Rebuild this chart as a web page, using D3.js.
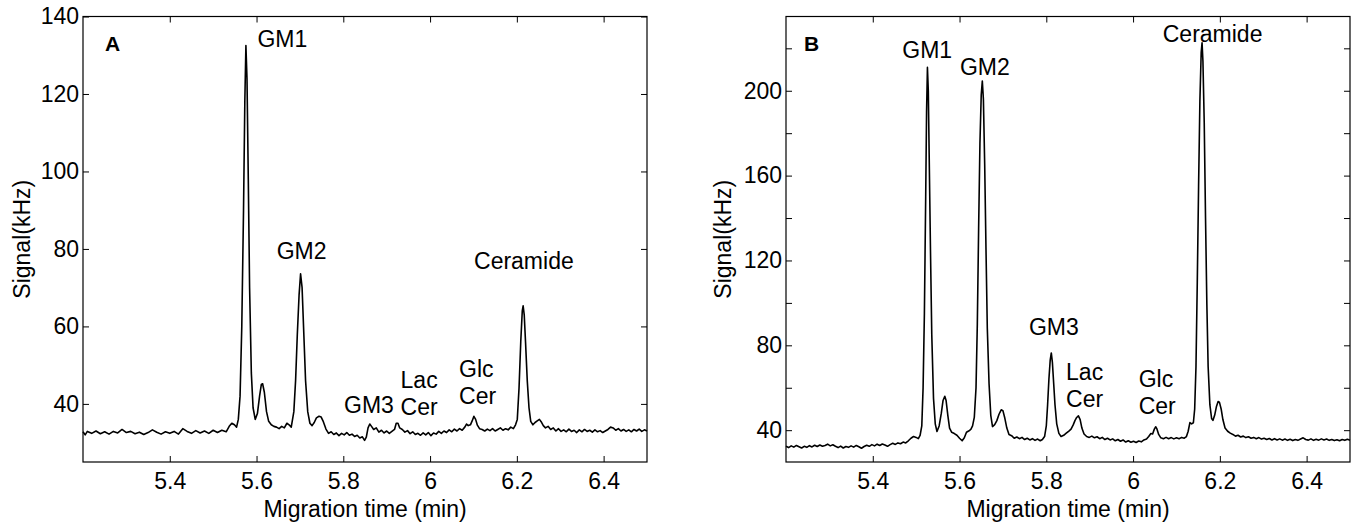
<!DOCTYPE html>
<html>
<head>
<meta charset="utf-8">
<script src="https://cdn.jsdelivr.net/npm/d3@7"></script>
<style>
  body { margin: 0; background: #fff; }
  svg { font-family: "Liberation Sans", Arial, Helvetica, sans-serif; }
</style>
</head>
<body>
<div id="chart"></div>
<script>
// ---- data ----
const timeTicks = [5.4, 5.6, 5.8, 6.0, 6.2, 6.4];
const timeTickLabels = ["5.4", "5.6", "5.8", "6", "6.2", "6.4"];
const signalTicksA = [40, 60, 80, 100, 120, 140];
const signalLabelsA = ["40", "60", "80", "100", "120", "140"];
const signalTicksB = [40, 60, 80, 100, 120, 140, 160, 180, 200, 220];
const signalLabelsB = ["40", "", "80", "", "120", "", "160", "", "200", ""];

// [migration time (min), signal (kHz)]
const traceA = [
  [5.200, 32.8], [5.205, 32.0], [5.210, 32.9], [5.220, 32.4], [5.230, 33.0], [5.240, 32.3],
  [5.250, 32.8], [5.260, 32.2], [5.270, 32.9], [5.280, 32.5], [5.290, 33.4], [5.300, 32.6],
  [5.310, 32.9], [5.320, 32.3], [5.330, 32.7], [5.340, 32.1], [5.350, 32.6], [5.360, 33.3],
  [5.370, 32.7], [5.380, 32.2], [5.390, 32.8], [5.400, 32.4], [5.410, 32.9], [5.420, 32.2],
  [5.430, 33.6], [5.440, 32.9], [5.450, 32.4], [5.460, 33.1], [5.470, 32.5], [5.480, 33.0],
  [5.490, 32.4], [5.500, 33.2], [5.510, 32.6], [5.520, 33.2], [5.530, 32.8], [5.537, 34.2],
  [5.543, 35.0], [5.549, 34.6], [5.554, 34.0], [5.558, 36.0], [5.562, 42], [5.566, 60],
  [5.570, 90], [5.573, 118], [5.5755, 132.5], [5.578, 124], [5.581, 98], [5.584, 70],
  [5.588, 48], [5.592, 39], [5.597, 36.0], [5.602, 37.5], [5.607, 42], [5.611, 45],
  [5.614, 45.2], [5.618, 43], [5.623, 38], [5.628, 35.5], [5.634, 34.6], [5.640, 34.2],
  [5.646, 34.0], [5.652, 33.6], [5.658, 34.2], [5.664, 33.8], [5.670, 35.0], [5.675, 34.6],
  [5.680, 34.0], [5.686, 38], [5.690, 46], [5.694, 58], [5.698, 68], [5.7015, 73.6],
  [5.705, 70], [5.709, 58], [5.713, 46], [5.718, 38], [5.723, 35], [5.728, 34.4],
  [5.733, 35.2], [5.738, 36.4], [5.744, 36.8], [5.749, 36.6], [5.754, 35.4], [5.760, 33.5],
  [5.766, 32.4], [5.772, 32.8], [5.778, 32.1], [5.784, 32.5], [5.790, 31.8], [5.796, 32.4],
  [5.802, 32.0], [5.808, 32.6], [5.814, 31.9], [5.820, 32.2], [5.826, 31.6], [5.832, 31.9],
  [5.838, 31.2], [5.844, 31.5], [5.849, 30.6], [5.853, 31.4], [5.857, 33.8], [5.861, 34.8],
  [5.865, 34.2], [5.870, 33.4], [5.876, 33.8], [5.882, 32.7], [5.888, 33.2], [5.894, 32.5],
  [5.900, 33.0], [5.906, 32.4], [5.912, 32.9], [5.918, 33.4], [5.922, 35.0], [5.926, 35.0],
  [5.930, 33.8], [5.936, 33.4], [5.942, 32.7], [5.948, 33.1], [5.954, 32.3], [5.960, 32.8],
  [5.966, 32.1], [5.972, 32.4], [5.978, 31.9], [5.984, 32.5], [5.990, 32.0], [5.996, 32.6],
  [6.002, 31.8], [6.008, 32.5], [6.014, 32.2], [6.020, 32.9], [6.026, 32.4], [6.032, 33.0],
  [6.038, 32.6], [6.044, 33.3], [6.050, 32.8], [6.056, 33.5], [6.062, 33.0], [6.068, 33.6],
  [6.074, 33.2], [6.080, 34.0], [6.084, 34.8], [6.088, 34.4], [6.093, 34.6], [6.097, 35.6],
  [6.101, 36.8], [6.105, 36.0], [6.109, 34.5], [6.114, 33.6], [6.120, 33.4], [6.126, 33.0],
  [6.132, 33.5], [6.138, 33.1], [6.144, 33.6], [6.150, 33.0], [6.156, 33.4], [6.162, 33.8],
  [6.168, 33.2], [6.174, 33.6], [6.180, 33.3], [6.186, 34.0], [6.192, 33.6], [6.197, 34.6],
  [6.201, 36], [6.205, 44], [6.209, 56], [6.2125, 64], [6.2145, 65.3], [6.217, 63],
  [6.220, 56], [6.224, 46], [6.228, 39], [6.232, 35.5], [6.237, 34.6], [6.242, 35.2],
  [6.247, 35.6], [6.252, 36.0], [6.256, 35.4], [6.261, 34.4], [6.266, 33.8], [6.272, 34.2],
  [6.278, 33.4], [6.284, 33.8], [6.290, 33.0], [6.296, 33.6], [6.302, 32.9], [6.308, 33.3],
  [6.314, 32.8], [6.320, 33.5], [6.326, 32.9], [6.332, 33.2], [6.338, 32.6], [6.344, 33.3],
  [6.350, 32.8], [6.356, 33.4], [6.362, 32.9], [6.368, 33.2], [6.374, 32.7], [6.380, 33.3],
  [6.386, 32.8], [6.392, 33.1], [6.398, 32.6], [6.404, 33.0], [6.410, 33.4], [6.416, 34.0],
  [6.422, 33.8], [6.428, 33.2], [6.434, 33.6], [6.440, 33.0], [6.446, 33.4], [6.452, 32.9],
  [6.458, 33.3], [6.464, 32.8], [6.470, 33.4], [6.476, 33.0], [6.482, 33.5], [6.488, 32.9],
  [6.494, 33.3], [6.500, 33.0]
];

const traceB = [
  [5.200, 32.4], [5.206, 31.8], [5.212, 32.6], [5.218, 32.0], [5.224, 32.8], [5.230, 32.2],
  [5.236, 31.6], [5.242, 32.4], [5.248, 31.9], [5.254, 32.7], [5.260, 32.1], [5.266, 32.9],
  [5.272, 32.3], [5.278, 33.0], [5.284, 32.4], [5.290, 32.8], [5.296, 33.4], [5.302, 32.6],
  [5.308, 33.1], [5.314, 32.4], [5.320, 31.8], [5.326, 32.5], [5.332, 31.6], [5.338, 32.3],
  [5.344, 31.9], [5.350, 32.6], [5.356, 32.0], [5.362, 32.8], [5.368, 32.2], [5.374, 31.5],
  [5.380, 32.3], [5.386, 32.9], [5.392, 32.4], [5.398, 33.2], [5.404, 32.6], [5.410, 33.4],
  [5.416, 32.8], [5.422, 33.5], [5.428, 33.0], [5.434, 32.4], [5.440, 33.2], [5.446, 33.8],
  [5.452, 33.3], [5.458, 34.0], [5.464, 33.6], [5.470, 34.4], [5.476, 34.0], [5.482, 35.0],
  [5.488, 36.2], [5.494, 37.0], [5.500, 36.6], [5.505, 36.0], [5.509, 37.5], [5.513, 42],
  [5.516, 60], [5.519, 95], [5.522, 150], [5.524, 190], [5.526, 211], [5.528, 200],
  [5.530, 170], [5.533, 125], [5.536, 85], [5.540, 55], [5.544, 43], [5.548, 39.4],
  [5.553, 42], [5.558, 48], [5.562, 54], [5.566, 56], [5.569, 54], [5.573, 47],
  [5.577, 41], [5.582, 39], [5.588, 38.4], [5.594, 37.6], [5.600, 36.2], [5.606, 35.0],
  [5.611, 36.4], [5.616, 39], [5.621, 39.6], [5.626, 40.4], [5.630, 42], [5.634, 46],
  [5.638, 60], [5.641, 90], [5.644, 135], [5.647, 175], [5.650, 198], [5.6525, 204.6],
  [5.655, 196], [5.658, 165], [5.661, 125], [5.664, 88], [5.668, 62], [5.672, 47],
  [5.676, 41.7], [5.681, 42.6], [5.686, 44.5], [5.691, 47.5], [5.696, 49.6], [5.700, 49.2],
  [5.704, 46], [5.709, 41], [5.714, 38], [5.720, 37.4], [5.726, 36.2], [5.732, 36.8],
  [5.738, 36.0], [5.744, 36.6], [5.750, 35.6], [5.756, 36.2], [5.762, 35.4], [5.768, 36.0],
  [5.774, 35.2], [5.780, 35.8], [5.786, 35.0], [5.791, 35.6], [5.796, 37.0], [5.800, 42],
  [5.803, 52], [5.806, 64], [5.809, 73], [5.8115, 76.4], [5.814, 72], [5.817, 62],
  [5.820, 52], [5.824, 43], [5.829, 38.5], [5.834, 37.0], [5.840, 37.6], [5.846, 38.6],
  [5.852, 39.6], [5.857, 40.5], [5.862, 42.5], [5.866, 44.5], [5.870, 46], [5.874, 46.8],
  [5.878, 45], [5.882, 41], [5.887, 38.2], [5.893, 37.0], [5.899, 36.6], [5.905, 37.2],
  [5.911, 36.4], [5.917, 36.9], [5.923, 36.0], [5.929, 36.6], [5.935, 35.6], [5.941, 36.2],
  [5.947, 35.4], [5.953, 35.9], [5.959, 35.0], [5.965, 35.6], [5.971, 34.8], [5.977, 35.4],
  [5.983, 34.4], [5.989, 35.0], [5.995, 34.3], [6.001, 34.8], [6.007, 34.2], [6.013, 34.9],
  [6.019, 34.5], [6.025, 35.4], [6.031, 35.8], [6.036, 37.0], [6.041, 38.4], [6.045, 38.2],
  [6.049, 40.5], [6.052, 41.6], [6.055, 40.6], [6.059, 38], [6.064, 36.4], [6.070, 36.0],
  [6.076, 36.6], [6.082, 36.0], [6.088, 36.5], [6.094, 35.9], [6.100, 36.4], [6.106, 36.0],
  [6.112, 36.6], [6.118, 36.2], [6.123, 37.0], [6.127, 39.5], [6.131, 43.6], [6.135, 43.0],
  [6.139, 43.5], [6.142, 50], [6.145, 70], [6.148, 110], [6.151, 155], [6.154, 195],
  [6.157, 218], [6.159, 222.6], [6.161, 214], [6.164, 185], [6.167, 140], [6.170, 100],
  [6.173, 70], [6.177, 52], [6.181, 45.5], [6.184, 44.6], [6.188, 47], [6.192, 51],
  [6.196, 53.5], [6.199, 53.2], [6.203, 50], [6.207, 45], [6.212, 41], [6.218, 39.5],
  [6.224, 38.6], [6.230, 38.0], [6.236, 37.2], [6.242, 37.6], [6.248, 36.8], [6.254, 37.2],
  [6.260, 36.5], [6.266, 36.9], [6.272, 36.2], [6.278, 36.6], [6.284, 36.0], [6.290, 36.5],
  [6.296, 35.8], [6.302, 36.2], [6.308, 35.6], [6.314, 36.1], [6.320, 35.4], [6.326, 36.0],
  [6.332, 35.4], [6.338, 35.9], [6.344, 35.3], [6.350, 35.8], [6.356, 35.2], [6.362, 35.7],
  [6.368, 35.1], [6.374, 35.6], [6.380, 35.2], [6.386, 35.8], [6.392, 36.4], [6.398, 35.6],
  [6.404, 35.3], [6.410, 35.9], [6.416, 35.2], [6.422, 35.7], [6.428, 35.3], [6.434, 35.9],
  [6.440, 35.4], [6.446, 35.8], [6.452, 35.2], [6.458, 35.6], [6.464, 35.1], [6.470, 35.5],
  [6.476, 35.0], [6.482, 35.6], [6.488, 35.2], [6.494, 35.7], [6.500, 35.3]
];

// peak names, anchored (text start, first baseline) in data units
const peaksA = [
  { name: ["GM1"], t: 5.602, v: 132.2 },
  { name: ["GM2"], t: 5.6465, v: 77.4 },
  { name: ["GM3"], t: 5.8017, v: 37.6 },
  { name: ["Lac", "Cer"], t: 5.932, v: 44.0 },
  { name: ["Glc", "Cer"], t: 6.0668, v: 46.9 },
  { name: ["Ceramide"], t: 6.1013, v: 74.9 }
];
const peaksB = [
  { name: ["GM1"], t: 5.468, v: 215.3 },
  { name: ["GM2"], t: 5.601, v: 207.4 },
  { name: ["GM3"], t: 5.760, v: 84.8 },
  { name: ["Lac", "Cer"], t: 5.8455, v: 63.6 },
  { name: ["Glc", "Cer"], t: 6.013, v: 60.2 },
  { name: ["Ceramide"], t: 6.0684, v: 223.0 }
];

const timeDomain = [5.2, 6.5];

// ---- drawing ----
const svg = d3.select("#chart")
    .append("svg")
    .attr("width", 1357)
    .attr("height", 525);

function drawPanel(cfg) {
    const x = d3.scaleLinear().domain(timeDomain).range([cfg.left, cfg.right]);
    const y = d3.scaleLinear().domain(cfg.yDomain).range([cfg.bottom, cfg.top]);
    const g = svg.append("g");

    const styleAxis = sel => {
        sel.attr("font-family", null).attr("font-size", null);
        sel.select(".domain").remove();
        sel.selectAll(".tick line").attr("stroke", "#000").attr("stroke-width", 1);
        sel.selectAll("text").style("font-size", "23px").attr("fill", "#000");
    };

    // bottom + top
    g.append("g")
        .attr("transform", `translate(0,${cfg.bottom})`)
        .call(d3.axisBottom(x).tickValues(timeTicks)
            .tickFormat((d, i) => timeTickLabels[i])
            .tickSizeInner(-6).tickSizeOuter(0).tickPadding(11))
        .call(styleAxis);
    g.append("g")
        .attr("transform", `translate(0,${cfg.top})`)
        .call(d3.axisTop(x).tickValues(timeTicks).tickFormat("")
            .tickSizeInner(-6).tickSizeOuter(0))
        .call(styleAxis);

    // left + right
    g.append("g")
        .attr("transform", `translate(${cfg.left},0)`)
        .call(d3.axisLeft(y).tickValues(cfg.yTicks)
            .tickFormat((d, i) => cfg.yLabels[i])
            .tickSizeInner(-6).tickSizeOuter(0).tickPadding(4))
        .call(styleAxis);
    g.append("g")
        .attr("transform", `translate(${cfg.right},0)`)
        .call(d3.axisRight(y).tickValues(cfg.yTicks).tickFormat("")
            .tickSizeInner(-6).tickSizeOuter(0))
        .call(styleAxis);

    // frame
    g.append("rect")
        .attr("x", cfg.left)
        .attr("y", cfg.top)
        .attr("width", cfg.right - cfg.left)
        .attr("height", cfg.bottom - cfg.top)
        .attr("fill", "none")
        .attr("stroke", "#000")
        .attr("stroke-width", 1.2);

    // trace
    const line = d3.line()
        .x(d => x(d[0]))
        .y(d => y(d[1]));
    g.append("path")
        .datum(cfg.trace)
        .attr("fill", "none")
        .attr("stroke", "#000")
        .attr("stroke-width", 1.6)
        .attr("stroke-linejoin", "round")
        .attr("d", line);

    // peak labels
    cfg.peaks.forEach(p => {
        const t = g.append("text")
            .attr("x", x(p.t))
            .attr("y", y(p.v))
            .style("font-size", "23px")
            .attr("fill", "#000");
        p.name.forEach((s, i) => {
            t.append("tspan")
                .attr("x", x(p.t))
                .attr("dy", i ? 27 : 0)
                .text(s);
        });
    });

    // panel letter
    g.append("text")
        .attr("x", cfg.left + cfg.letterDx)
        .attr("y", cfg.top + 34)
        .style("font-size", "21px")
        .style("font-weight", "bold")
        .text(cfg.letter);

    // axis titles
    g.append("text")
        .attr("transform", `translate(${cfg.titleX},${(cfg.top + cfg.bottom) / 2}) rotate(-90)`)
        .attr("text-anchor", "middle")
        .style("font-size", "23px")
        .text("Signal(kHz)");
    g.append("text")
        .attr("x", (cfg.left + cfg.right) / 2)
        .attr("y", 517)
        .attr("text-anchor", "middle")
        .style("font-size", "23px")
        .text("Migration time (min)");
}

drawPanel({
    left: 83, right: 647, top: 16.5, bottom: 462,
    yDomain: [25, 140], yTicks: signalTicksA, yLabels: signalLabelsA,
    trace: traceA, peaks: peaksA, letter: "A", letterDx: 22, titleX: 30
});

drawPanel({
    left: 786, right: 1350, top: 16.5, bottom: 462,
    yDomain: [25, 235], yTicks: signalTicksB, yLabels: signalLabelsB,
    trace: traceB, peaks: peaksB, letter: "B", letterDx: 18, titleX: 731
});
</script>
</body>
</html>
